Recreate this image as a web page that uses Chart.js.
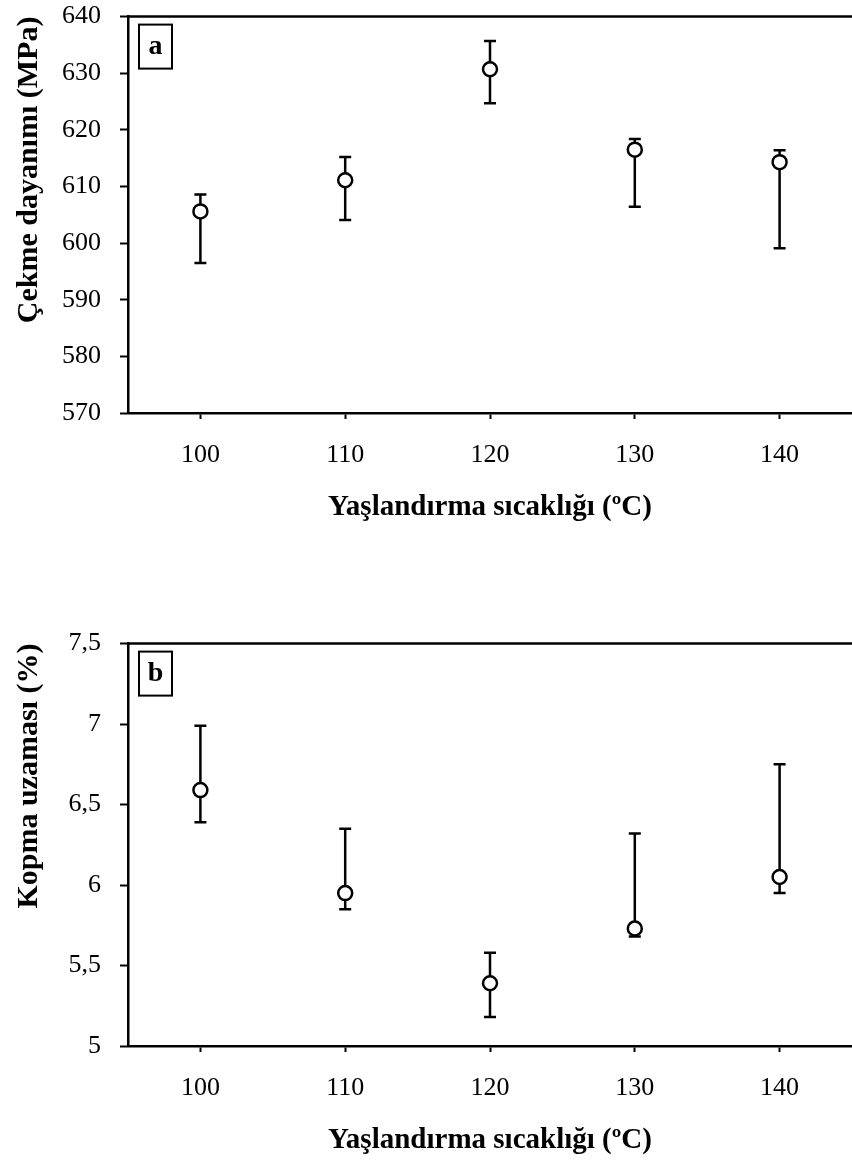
<!DOCTYPE html>
<html>
<head>
<meta charset="utf-8">
<script src="https://cdn.jsdelivr.net/npm/chart.js@4"></script>
<style>
  body { margin: 0; background: #fff; overflow: hidden; }
  #wrap { position: relative; width: 852px; height: 1165px; overflow: hidden; }
  canvas { position: absolute; left: 0; }
</style>
</head>
<body>
<div id="wrap">
  <canvas id="chartA" width="852" height="550" style="top:-18px"></canvas>
  <canvas id="chartB" width="852" height="556" style="top:609px"></canvas>
</div>
<script>
// aging temperatures (x)
const temps = [100, 110, 120, 130, 140];
const xTicks = [100, 110, 120, 130, 140];

// (a) tensile strength, MPa
const strength = [605.6, 611.1, 630.7, 616.5, 614.3];
const strengthHigh = [608.6, 615.2, 635.7, 618.4, 616.4];
const strengthLow = [596.5, 604.1, 624.7, 606.4, 599.1];
const yTicksA = [570, 580, 590, 600, 610, 620, 630, 640];

// (b) elongation at break, %
const elong = [6.59, 5.95, 5.39, 5.73, 6.05];
const elongHigh = [6.99, 6.35, 5.58, 6.32, 6.75];
const elongLow = [6.39, 5.85, 5.18, 5.68, 5.95];
const yTicksB = [5, 5.5, 6, 6.5, 7, 7.5];

const serif = '"Liberation Serif", "Times New Roman", serif';
Chart.defaults.color = '#000';
Chart.defaults.font.family = serif;

// error bars, drawn under the circles
const errorBars = {
  id: 'errorBars',
  beforeDatasetsDraw(chart) {
    const ctx = chart.ctx;
    const xs = chart.scales.x, ys = chart.scales.y;
    const ds = chart.data.datasets[0];
    ctx.save();
    ctx.strokeStyle = '#000';
    ctx.lineWidth = 2.5;
    ds.data.forEach((p, i) => {
      const x = xs.getPixelForValue(p.x);
      const yl = ys.getPixelForValue(ds.errLow[i]);
      const yh = ys.getPixelForValue(ds.errHigh[i]);
      ctx.beginPath();
      ctx.moveTo(x, yl); ctx.lineTo(x, yh);
      ctx.moveTo(x - 6, yl); ctx.lineTo(x + 6, yl);
      ctx.moveTo(x - 6, yh); ctx.lineTo(x + 6, yh);
      ctx.stroke();
    });
    ctx.restore();
  }
};

// top frame line + boxed panel letter
const frame = {
  id: 'frame',
  afterDraw(chart, args, opts) {
    const ctx = chart.ctx;
    const a = chart.chartArea;
    ctx.save();
    ctx.strokeStyle = '#000';
    ctx.lineWidth = 2.5;
    ctx.beginPath();
    ctx.moveTo(a.left - 1, a.top);
    ctx.lineTo(a.right, a.top);
    ctx.stroke();
    ctx.lineWidth = 2;
    ctx.strokeRect(a.left + 11, a.top + 8, 33, 44);
    ctx.fillStyle = '#000';
    ctx.font = 'bold 28px ' + serif;
    ctx.textAlign = 'center';
    ctx.textBaseline = 'middle';
    ctx.fillText(opts.text, a.left + 27.5, a.top + 30);
    ctx.restore();
  }
};

function makeChart(id, vals, hi, lo, yTicks, yTitle, letter) {
  return new Chart(document.getElementById(id), {
    type: 'scatter',
    data: {
      datasets: [{
        data: temps.map((t, i) => ({ x: t, y: vals[i] })),
        errHigh: hi,
        errLow: lo,
        pointStyle: 'circle',
        pointRadius: 7,
        pointHoverRadius: 7,
        pointBorderWidth: 2.5,
        backgroundColor: '#fff',
        borderColor: '#000'
      }]
    },
    options: {
      responsive: false,
      animation: false,
      devicePixelRatio: 1,
      layout: { autoPadding: false, padding: { top: 15, right: 0, left: 0, bottom: 0 } },
      plugins: {
        legend: { display: false },
        tooltip: { enabled: false },
        frame: { text: letter }
      },
      scales: {
        x: {
          type: 'linear',
          min: 95,
          max: 145,
          afterBuildTicks: s => { s.ticks = xTicks.map(v => ({ value: v })); },
          afterFit: s => { s.height = 119; },
          ticks: { font: { size: 26 }, padding: 21, maxRotation: 0 },
          grid: { drawOnChartArea: false, tickLength: 6, tickWidth: 2, tickColor: '#000' },
          border: { display: true, color: '#000', width: 2.5 },
          title: {
            display: true,
            text: 'Yaşlandırma sıcaklığı (ºC)',
            font: { size: 29, weight: 'bold' },
            padding: { top: 0, bottom: 7 }
          }
        },
        y: {
          min: yTicks[0],
          max: yTicks[yTicks.length - 1],
          afterBuildTicks: s => { s.ticks = yTicks.map(v => ({ value: v })); },
          afterFit: s => { s.width = 128; },
          ticks: {
            font: { size: 26 },
            padding: 19,
            callback: v => String(v).replace('.', ',')
          },
          grid: { drawOnChartArea: false, tickLength: 8, tickWidth: 2, tickColor: '#000' },
          border: { display: true, color: '#000', width: 2.5 },
          title: {
            display: true,
            text: yTitle,
            align: 'end',
            font: { size: 30, weight: 'bold' },
            padding: { top: 11, bottom: 0 }
          }
        }
      }
    },
    plugins: [errorBars, frame]
  });
}

makeChart('chartA', strength, strengthHigh, strengthLow, yTicksA, 'Çekme dayanımı (MPa)', 'a');
makeChart('chartB', elong, elongHigh, elongLow, yTicksB, 'Kopma uzaması (%)', 'b');
</script>
</body>
</html>
